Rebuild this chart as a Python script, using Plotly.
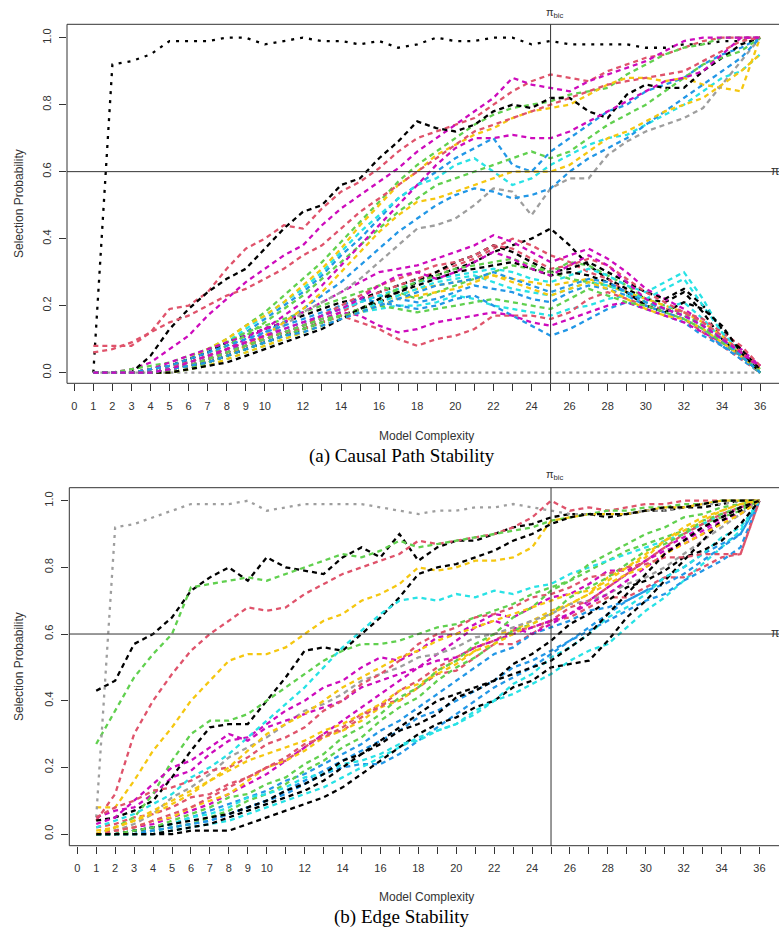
import plotly.graph_objects as go

X = list(range(1, 37))
X_TICKS = list(range(0, 37))
X_TICK_TEXT = [str(i) if (i <= 10 or i % 2 == 0) else "" for i in X_TICKS]
Y_TICKS = [0, 0.2, 0.4, 0.6, 0.8, 1.0]
Y_TICK_TEXT = ["0.0", "0.2", "0.4", "0.6", "0.8", "1.0"]
PI_BIC = 25
PI_THR = 0.6

# ---------------- Panel (a): causal path stability ----------------
a_black_top = [0, .92, .93, .95, .99, .99, .99, 1.0, 1.0, .98, .99, 1.0, .99, .99, .98, .99, .97, .98,
               1.0, .99, .99, 1.0, 1.0, .98, .99, .98, .98, .98, .98, .97, .97, .98, .98, .99, .99, 1.0]
a_gray_zero = [0] * 36
a_gray_rise = [0, 0, 0, 0, .01, .02, .04, .06, .08, .11, .14, .18, .21, .24, .28, .33, .38, .43,
               .44, .46, .50, .55, .54, .47, .55, .58, .58, .65, .69, .72, .74, .76, .79, .86, .93, 1.0]
a_up_red1 = [.08, .08, .08, .12, .19, .20, .24, .31, .37, .40, .44, .43, .49, .54, .57, .61, .66, .70,
             .72, .74, .76, .80, .84, .87, .89, .88, .87, .90, .92, .94, .95, .97, .99, 1.0, 1.0, 1.0]
a_up_black = [0, 0, 0, .05, .13, .19, .24, .28, .31, .37, .43, .48, .50, .56, .58, .64, .69, .75,
              .73, .72, .74, .78, .80, .79, .82, .82, .78, .76, .83, .86, .85, .85, .90, .94, .98, 1.0]
a_up_mag1 = [0, 0, .01, .03, .07, .11, .17, .22, .27, .31, .35, .38, .44, .49, .53, .57, .61, .66,
             .70, .74, .78, .82, .88, .86, .85, .84, .87, .89, .91, .93, .96, .99, 1.0, 1.0, 1.0, 1.0]
a_up_yel1 = [0, 0, 0, .01, .02, .04, .07, .10, .14, .17, .21, .26, .31, .37, .44, .50, .56, .60,
             .65, .68, .71, .73, .76, .78, .79, .80, .83, .86, .88, .88, .87, .88, .86, .85, .84, 1.0]
a_up_blu1 = [0, 0, 0, .01, .02, .04, .06, .09, .12, .16, .20, .24, .29, .35, .40, .46, .52, .56,
             .60, .64, .67, .70, .62, .60, .66, .70, .74, .78, .80, .84, .86, .88, .92, .95, .97, 1.0]
a_up_cya1 = [0, 0, 0, .01, .02, .04, .06, .09, .13, .17, .21, .25, .30, .36, .42, .47, .52, .56,
             .58, .62, .64, .60, .56, .58, .62, .65, .68, .70, .71, .74, .77, .80, .84, .88, .90, .95]
a_up_grn1 = [0, 0, 0, 0, .01, .03, .05, .08, .11, .15, .19, .23, .28, .33, .38, .43, .48, .52,
             .56, .58, .60, .62, .64, .66, .64, .66, .70, .74, .77, .80, .84, .88, .92, .94, .96, 1.0]
a_up_mag2 = [0, 0, 0, 0, .01, .02, .04, .07, .10, .13, .17, .21, .26, .32, .38, .44, .50, .56,
             .62, .67, .70, .70, .71, .70, .70, .72, .75, .78, .81, .84, .87, .88, .90, .95, 1.0, 1.0]
a_up_red2 = [.06, .07, .09, .12, .15, .17, .20, .23, .25, .28, .31, .35, .38, .43, .48, .52, .56, .60,
             .64, .68, .72, .74, .76, .78, .80, .82, .84, .86, .87, .88, .89, .90, .93, .96, .99, 1.0]
a_up_yel2 = [0, 0, 0, 0, 0, .01, .03, .05, .08, .11, .15, .19, .24, .30, .36, .42, .47, .51,
             .52, .54, .56, .58, .60, .60, .60, .62, .66, .70, .72, .75, .78, .80, .82, .86, .90, .95]
a_up_blu2 = [0, 0, 0, 0, .01, .02, .04, .06, .09, .12, .15, .19, .23, .27, .32, .37, .42, .46,
             .50, .53, .55, .54, .52, .53, .55, .60, .64, .67, .70, .74, .78, .82, .86, .90, .94, 1.0]
a_up_grn2 = [0, 0, 0, .01, .02, .04, .07, .10, .14, .18, .23, .28, .33, .39, .45, .51, .57, .62,
             .66, .70, .74, .77, .79, .80, .81, .83, .84, .85, .89, .92, .95, .97, .98, 1.0, 1.0, 1.0]

a_lo_black1 = [0, 0, 0, .01, .02, .04, .06, .09, .11, .13, .15, .17, .19, .21, .22, .24, .26, .28,
               .29, .31, .33, .36, .38, .40, .43, .38, .32, .28, .25, .22, .21, .24, .18, .10, .05, 0]
a_lo_red1 = [0, 0, 0, 0, .01, .02, .04, .06, .08, .10, .12, .14, .16, .18, .21, .24, .26, .28,
             .30, .32, .34, .37, .40, .38, .35, .33, .30, .28, .24, .20, .18, .16, .12, .08, .04, 0]
a_lo_grn1 = [0, 0, .01, .02, .03, .05, .07, .09, .12, .14, .16, .18, .20, .22, .24, .26, .24, .22,
             .24, .26, .28, .30, .32, .31, .30, .33, .32, .29, .26, .22, .20, .18, .14, .10, .06, .01]
a_lo_blu1 = [0, 0, 0, .01, .02, .03, .05, .07, .09, .11, .13, .15, .17, .19, .21, .23, .22, .21,
             .22, .24, .26, .25, .24, .22, .21, .24, .26, .25, .23, .20, .18, .16, .13, .08, .04, 0]
a_lo_cya1 = [0, 0, 0, 0, .01, .02, .04, .06, .08, .10, .12, .14, .17, .19, .21, .23, .25, .27,
             .28, .29, .30, .31, .30, .28, .27, .29, .31, .29, .26, .24, .27, .30, .22, .12, .06, 0]
a_lo_mag1 = [0, 0, 0, .01, .03, .05, .07, .09, .11, .13, .15, .18, .21, .24, .27, .30, .31, .32,
             .34, .36, .38, .41, .39, .36, .33, .35, .37, .34, .30, .25, .22, .19, .15, .10, .07, .02]
a_lo_yel1 = [0, 0, 0, 0, .01, .02, .03, .05, .07, .09, .11, .13, .15, .17, .19, .21, .23, .25,
             .26, .27, .28, .29, .28, .27, .26, .27, .28, .26, .24, .22, .20, .18, .15, .11, .06, .01]
a_lo_red2 = [0, 0, 0, .01, .02, .03, .05, .07, .09, .11, .12, .13, .15, .17, .15, .13, .10, .08,
             .10, .11, .13, .17, .17, .17, .16, .18, .22, .24, .22, .20, .19, .18, .16, .12, .08, .02]
a_lo_black2 = [0, 0, 0, 0, .01, .02, .03, .05, .07, .09, .11, .13, .15, .17, .19, .21, .24, .27,
               .30, .33, .35, .38, .36, .33, .30, .31, .33, .30, .27, .24, .22, .25, .20, .13, .07, .01]
a_lo_mag2 = [0, 0, 0, 0, .01, .02, .04, .06, .08, .10, .12, .14, .16, .18, .17, .14, .12, .13,
             .15, .16, .17, .18, .17, .15, .14, .16, .18, .20, .21, .19, .17, .15, .12, .09, .05, .02]
a_lo_blu2 = [0, 0, 0, .01, .02, .04, .06, .08, .10, .12, .14, .16, .18, .20, .22, .21, .20, .19,
             .20, .22, .23, .20, .17, .14, .11, .13, .16, .19, .21, .19, .17, .15, .11, .08, .05, 0]
a_lo_grn2 = [0, 0, 0, 0, 0, .01, .03, .05, .07, .09, .11, .13, .15, .17, .19, .22, .25, .27,
             .29, .31, .32, .33, .34, .32, .30, .28, .27, .26, .24, .21, .19, .17, .14, .09, .05, 0]
a_lo_cya2 = [0, 0, 0, 0, .01, .02, .03, .05, .07, .09, .11, .13, .15, .17, .18, .19, .20, .20,
             .21, .23, .22, .20, .19, .18, .17, .19, .20, .22, .23, .21, .19, .21, .16, .10, .05, 0]
a_lo_red3 = [0, 0, 0, 0, .01, .02, .04, .06, .08, .10, .12, .14, .17, .20, .23, .26, .28, .30,
             .32, .33, .35, .38, .37, .34, .31, .32, .34, .32, .28, .24, .21, .18, .15, .11, .06, .02]
a_lo_yel2 = [0, 0, 0, 0, 0, .01, .02, .04, .06, .08, .10, .12, .14, .16, .18, .20, .22, .23,
             .24, .25, .27, .29, .27, .25, .23, .25, .27, .25, .22, .19, .17, .16, .13, .09, .05, 0]
a_lo_black3 = [0, 0, 0, 0, 0, .01, .02, .03, .05, .07, .09, .11, .13, .16, .19, .22, .24, .26,
               .28, .30, .31, .32, .33, .31, .29, .30, .29, .27, .24, .20, .18, .21, .19, .14, .06, 0]
a_lo_blu3 = [0, 0, 0, 0, .01, .02, .03, .05, .07, .09, .11, .12, .14, .16, .18, .20, .22, .24,
             .26, .27, .28, .30, .28, .26, .24, .26, .28, .27, .24, .21, .19, .17, .14, .10, .05, 0]
a_lo_grn3 = [0, 0, 0, 0, .01, .02, .04, .06, .08, .10, .12, .14, .16, .17, .18, .20, .19, .18,
             .19, .20, .21, .22, .21, .20, .19, .22, .25, .23, .21, .20, .18, .16, .13, .09, .05, 0]
a_lo_mag3 = [0, 0, 0, 0, .01, .03, .05, .07, .09, .11, .13, .15, .17, .19, .22, .26, .29, .30,
             .28, .30, .33, .36, .34, .31, .29, .32, .35, .32, .27, .22, .19, .17, .14, .10, .06, .02]
a_lo_cya3 = [0, 0, 0, 0, 0, .01, .02, .04, .06, .08, .10, .12, .14, .16, .18, .21, .23, .25,
             .27, .28, .29, .27, .25, .24, .23, .25, .27, .26, .24, .22, .25, .28, .20, .12, .06, 0]

# ---------------- Panel (b): edge stability ----------------
b_gray_top = [.05, .92, .93, .95, .97, .99, .99, .99, 1.0, .97, .98, .99, .99, .99, .99, .98, .97, .96,
              .97, .97, .98, .98, .99, .98, .97, .96, .96, .96, .96, .97, .97, .98, .99, .99, 1.0, 1.0]
b_black_top = [.43, .46, .57, .60, .65, .73, .77, .80, .76, .83, .80, .79, .78, .83, .86, .83, .90, .82,
               .86, .88, .88, .90, .92, .93, .95, .96, .96, .95, .96, .97, .97, .98, .98, .99, 1.0, 1.0]
b_green_top = [.27, .37, .47, .54, .60, .74, .75, .76, .77, .76, .78, .80, .82, .84, .83, .85, .88, .86,
               .87, .88, .89, .90, .91, .92, .94, .95, .96, .97, .97, .98, .98, .99, .99, 1.0, 1.0, 1.0]
b_red_top = [.04, .12, .30, .40, .48, .55, .60, .64, .68, .67, .68, .72, .75, .78, .80, .82, .84, .88,
             .87, .88, .89, .90, .92, .95, 1.0, .97, .98, .97, .98, .99, .99, 1.0, 1.0, 1.0, 1.0, 1.0]
b_yel_top = [.08, .08, .16, .25, .32, .40, .46, .52, .54, .54, .56, .60, .64, .66, .70, .72, .75, .80,
             .79, .80, .82, .82, .83, .86, .94, .95, .96, .96, .96, .97, .98, .98, .99, 1.0, 1.0, 1.0]
b_black_mid = [.04, .05, .07, .10, .17, .25, .32, .33, .33, .40, .47, .55, .56, .55, .60, .65, .71, .78,
               .80, .81, .83, .85, .88, .90, .93, .95, .96, .96, .96, .97, .98, .98, .99, 1.0, 1.0, 1.0]
b_black_low = [0, 0, 0, 0, 0, .01, .01, .01, .03, .05, .07, .09, .11, .14, .18, .22, .26, .30,
               .33, .35, .38, .40, .44, .46, .50, .51, .52, .58, .65, .70, .76, .82, .88, .94, .97, 1.0]
b_cyan_low = [0, 0, 0, 0, .01, .02, .03, .04, .06, .08, .10, .12, .14, .17, .20, .23, .26, .29,
              .31, .33, .36, .40, .42, .45, .48, .52, .55, .57, .62, .67, .71, .76, .81, .86, .91, 1.0]
b_blue_1 = [0, 0, .01, .01, .02, .03, .04, .06, .08, .10, .12, .15, .18, .20, .21, .21, .24, .28,
            .32, .36, .40, .44, .47, .50, .54, .58, .62, .66, .70, .73, .77, .80, .84, .87, .90, 1.0]
b_red_1 = [.02, .03, .05, .06, .08, .11, .12, .15, .17, .20, .22, .26, .30, .31, .35, .39, .40, .44,
           .48, .49, .53, .57, .57, .60, .64, .65, .68, .71, .71, .74, .77, .77, .80, .83, .84, 1.0]
b_green_1 = [0, .02, .05, .12, .22, .30, .34, .34, .36, .40, .44, .48, .52, .55, .57, .57, .58, .60,
             .62, .63, .65, .67, .69, .72, .74, .76, .79, .82, .85, .87, .89, .91, .93, .95, .97, 1.0]
b_mag_1 = [.05, .07, .08, .12, .17, .19, .24, .28, .29, .33, .37, .40, .44, .46, .50, .53, .52, .55,
           .59, .60, .63, .66, .65, .68, .71, .72, .75, .79, .79, .82, .85, .87, .90, .94, .96, 1.0]
b_yel_1 = [0, .01, .02, .04, .05, .08, .10, .12, .16, .20, .22, .25, .29, .31, .34, .38, .40, .44,
           .49, .52, .55, .60, .61, .64, .67, .69, .72, .77, .80, .83, .88, .92, .95, .97, .99, 1.0]
b_gray_1 = [0, .01, .03, .06, .11, .14, .18, .23, .26, .29, .33, .37, .39, .42, .46, .48, .50, .53,
            .54, .56, .59, .60, .62, .64, .66, .69, .70, .72, .75, .77, .80, .84, .88, .92, .96, 1.0]
b_black_2 = [0, 0, .01, .02, .03, .04, .05, .06, .08, .10, .13, .15, .18, .22, .24, .27, .31, .33,
             .36, .41, .43, .46, .51, .54, .58, .63, .66, .70, .74, .76, .79, .83, .85, .88, .93, 1.0]
b_cyan_1 = [.02, .04, .06, .09, .12, .17, .20, .24, .29, .34, .39, .44, .50, .56, .61, .66, .70, .71,
            .70, .72, .71, .73, .72, .74, .75, .78, .80, .82, .84, .86, .88, .90, .93, .96, .98, 1.0]
b_blue_2 = [0, 0, .01, .02, .03, .05, .07, .09, .11, .13, .16, .18, .21, .24, .27, .31, .34, .38,
            .42, .46, .50, .54, .56, .60, .62, .64, .67, .68, .70, .73, .75, .78, .82, .86, .90, 1.0]
b_red_2 = [0, .01, .02, .04, .06, .08, .11, .14, .17, .20, .23, .27, .29, .32, .36, .38, .43, .46,
           .50, .53, .56, .58, .61, .62, .64, .68, .70, .74, .78, .82, .86, .90, .93, .96, .98, 1.0]
b_green_2 = [0, 0, 0, .01, .02, .03, .05, .07, .10, .12, .15, .19, .22, .26, .29, .34, .38, .41,
             .46, .50, .53, .57, .61, .63, .66, .71, .74, .77, .81, .85, .87, .90, .94, .96, .98, 1.0]
b_mag_2 = [0, .01, .02, .03, .05, .07, .09, .12, .15, .18, .22, .26, .30, .34, .38, .42, .46, .50,
           .54, .58, .62, .64, .62, .60, .63, .66, .70, .74, .78, .82, .86, .89, .92, .95, .98, 1.0]
b_yel_2 = [.01, .02, .04, .07, .10, .13, .16, .19, .22, .24, .26, .28, .31, .33, .36, .39, .43, .45,
           .48, .51, .55, .57, .60, .63, .66, .69, .72, .75, .78, .80, .84, .87, .90, .93, .96, 1.0]
b_blue_3 = [0, 0, 0, .01, .02, .03, .04, .06, .08, .10, .13, .16, .19, .22, .25, .28, .31, .35,
            .37, .40, .43, .46, .50, .52, .55, .58, .61, .64, .67, .70, .72, .76, .79, .82, .86, 1.0]
b_black_3 = [0, 0, 0, 0, .01, .02, .03, .05, .07, .09, .11, .13, .16, .20, .24, .28, .32, .36,
             .40, .42, .44, .46, .48, .50, .52, .56, .60, .66, .72, .78, .84, .88, .92, .95, .98, 1.0]
b_cyan_2 = [0, 0, .01, .02, .03, .05, .06, .08, .11, .12, .14, .17, .18, .21, .22, .24, .27, .28,
            .31, .33, .37, .40, .45, .48, .53, .56, .60, .65, .68, .72, .77, .80, .84, .89, .92, 1.0]
b_red_3 = [.05, .08, .10, .13, .14, .16, .19, .20, .23, .27, .29, .32, .37, .40, .45, .48, .52, .57,
           .60, .62, .65, .66, .68, .71, .72, .74, .77, .78, .80, .81, .83, .83, .84, .84, .84, 1.0]
b_green_3 = [0, 0, .01, .02, .04, .06, .08, .11, .12, .15, .17, .21, .24, .29, .32, .36, .41, .44,
             .49, .52, .57, .60, .65, .68, .73, .76, .81, .84, .87, .90, .92, .95, .96, .98, .99, 1.0]
b_mag_3 = [.03, .05, .10, .15, .20, .22, .26, .30, .28, .32, .34, .36, .38, .40, .44, .46, .48, .50,
           .52, .53, .56, .58, .60, .62, .64, .66, .69, .72, .76, .80, .84, .88, .91, .95, .98, 1.0]
b_yel_3 = [0, .02, .04, .06, .09, .12, .16, .20, .25, .30, .33, .36, .40, .44, .47, .50, .53, .55,
           .58, .60, .62, .64, .66, .68, .70, .72, .73, .76, .80, .84, .88, .91, .94, .97, .99, 1.0]

# R 4 default palette
BLACK, RED, GREEN, BLUE, CYAN, MAGENTA, YELLOW, GRAY = (
    "#000000", "#DF536B", "#61D04F", "#2297E6", "#28E2E5", "#CD0BBC", "#F5C710", "#9E9E9E")

panel_a = [
    (a_black_top, BLACK, "3px,6px"), (a_up_red1, RED, None), (a_up_grn2, GREEN, None),
    (a_up_blu1, BLUE, None), (a_up_cya1, CYAN, None), (a_up_mag1, MAGENTA, None),
    (a_up_yel1, YELLOW, None), (a_gray_zero, GRAY, "3px,4px"),
    (a_lo_black1, BLACK, None), (a_lo_red1, RED, None), (a_lo_grn1, GREEN, None),
    (a_lo_blu1, BLUE, None), (a_lo_cya1, CYAN, None), (a_lo_mag1, MAGENTA, None),
    (a_lo_yel1, YELLOW, None), (a_gray_rise, GRAY, None),
    (a_up_black, BLACK, None), (a_up_red2, RED, None), (a_up_grn1, GREEN, None),
    (a_up_blu2, BLUE, None), (a_lo_cya2, CYAN, None), (a_up_mag2, MAGENTA, None),
    (a_up_yel2, YELLOW, None),
    (a_lo_black2, BLACK, None), (a_lo_red2, RED, None), (a_lo_grn2, GREEN, None),
    (a_lo_blu2, BLUE, None), (a_lo_cya3, CYAN, None), (a_lo_mag2, MAGENTA, None),
    (a_lo_yel2, YELLOW, None),
    (a_lo_black3, BLACK, None), (a_lo_red3, RED, None), (a_lo_grn3, GREEN, None),
    (a_lo_blu3, BLUE, None), (a_lo_mag3, MAGENTA, None),
]

panel_b = [
    (b_black_top, BLACK, None), (b_red_top, RED, None), (b_green_top, GREEN, None),
    (b_blue_1, BLUE, None), (b_cyan_low, CYAN, None), (b_mag_1, MAGENTA, None),
    (b_yel_top, YELLOW, None), (b_gray_top, GRAY, "3px,5px"),
    (b_black_mid, BLACK, None), (b_red_1, RED, None), (b_green_1, GREEN, None),
    (b_blue_2, BLUE, None), (b_cyan_1, CYAN, None), (b_mag_2, MAGENTA, None),
    (b_yel_1, YELLOW, None), (b_gray_1, GRAY, None),
    (b_black_low, BLACK, None), (b_red_2, RED, None), (b_green_2, GREEN, None),
    (b_blue_3, BLUE, None), (b_cyan_2, CYAN, None), (b_mag_3, MAGENTA, None),
    (b_yel_2, YELLOW, None),
    (b_black_2, BLACK, None), (b_red_3, RED, None), (b_green_3, GREEN, None),
    (b_yel_3, YELLOW, None), (b_black_3, BLACK, None),
]

fig = go.Figure()
for vals, col, dash in panel_a:
    fig.add_trace(go.Scatter(x=X, y=vals, mode="lines", xaxis="x", yaxis="y",
                             line=dict(color=col, width=2.3, dash=dash or "5px,4px"),
                             showlegend=False, hoverinfo="skip"))
for vals, col, dash in panel_b:
    fig.add_trace(go.Scatter(x=X, y=vals, mode="lines", xaxis="x2", yaxis="y2",
                             line=dict(color=col, width=2.3, dash=dash or "5px,4px"),
                             showlegend=False, hoverinfo="skip"))

H = 931.0
W_PLOT = 712.0
L = 67


def py(px):
    return 1 - px / H


def px_x(px):
    return (px - L) / W_PLOT


axis_font = dict(family="Liberation Sans, Arial, sans-serif", size=11, color="#333")
xcommon = dict(tickvals=X_TICKS, ticktext=X_TICK_TEXT, ticks="outside", ticklen=7, tickwidth=1,
               tickcolor="#333", showgrid=False, zeroline=False, showline=False,
               tickfont=axis_font, ticklabelstandoff=5)
ycommon = dict(tickvals=Y_TICKS, ticktext=Y_TICK_TEXT, ticks="outside", ticklen=7, tickwidth=1,
               tickcolor="#333", showgrid=False, zeroline=False, showline=False,
               tickfont=axis_font, tickangle=-90, ticklabelstandoff=4)

fig.update_layout(
    width=779, height=931,
    margin=dict(l=L, r=0, t=0, b=0),
    paper_bgcolor="white", plot_bgcolor="white",
    font=dict(family="Liberation Sans, Arial, sans-serif", color="#333"),
    xaxis=dict(domain=[0, 1], range=[-0.383, 36.99], anchor="y", **xcommon),
    yaxis=dict(domain=[py(383.3), py(24.3)], range=[-0.032, 1.04], anchor="x", **ycommon),
    xaxis2=dict(domain=[px_x(69.3), 1], range=[-0.42, 37.03], anchor="y2", **xcommon),
    yaxis2=dict(domain=[py(845.7), py(487.7)], range=[-0.035, 1.039], anchor="x2", **ycommon),
)

shapes = []
for xr, yr in (("x", "y"), ("x2", "y2")):
    lc = dict(color="#333", width=1)
    shapes += [
        dict(type="line", xref=xr + " domain", yref=yr + " domain", x0=0, x1=1.05, y0=1, y1=1, line=lc),
        dict(type="line", xref=xr + " domain", yref=yr + " domain", x0=0, x1=1.05, y0=0, y1=0, line=lc),
        dict(type="line", xref=xr + " domain", yref=yr + " domain", x0=0, x1=0, y0=0, y1=1, line=lc),
        dict(type="line", xref=xr + " domain", yref=yr, x0=0, x1=1.05, y0=PI_THR, y1=PI_THR, line=lc),
        dict(type="line", xref=xr, yref=yr + " domain", x0=PI_BIC, x1=PI_BIC, y0=0, y1=1, line=lc),
    ]
fig.update_layout(shapes=shapes)

ann = []
for (xr, yr, top_px, mid_px, xt_px, cap_px, cap) in (
        ("x", "y", 13, 204, 436, 456, "(a) Causal Path Stability"),
        ("x2", "y2", 475, 667, 897, 917, "(b) Edge Stability")):
    ann += [
        dict(x=PI_BIC, xref=xr, y=py(top_px), yref="paper", text="π<sub>bic</sub>", showarrow=False,
             font=dict(size=11, color="#333"), xanchor="left", xshift=-7, yanchor="middle"),
        dict(x=1, xref="paper", xshift=-10, y=PI_THR, yref=yr, text="π<sub>thr</sub>", showarrow=False,
             font=dict(size=12, color="#333"), xanchor="left", yanchor="middle"),
        dict(x=px_x(19), xref="paper", y=py(mid_px), yref="paper", text="Selection Probability",
             textangle=-90, showarrow=False, font=dict(size=12, color="#333"),
             xanchor="center", yanchor="middle"),
        dict(x=px_x(426), xref="paper", y=py(xt_px), yref="paper", text="Model Complexity",
             showarrow=False, font=dict(size=12, color="#333"), xanchor="center", yanchor="middle"),
        dict(x=px_x(402), xref="paper", y=py(cap_px), yref="paper", text=cap, showarrow=False,
             font=dict(family="Liberation Serif, Times New Roman, serif", size=19, color="#000"),
             xanchor="center", yanchor="middle"),
    ]
fig.update_layout(annotations=ann)

fig.write_html(
    "out.html",
    config={"displayModeBar": False},
    post_script="document.body.style.margin='0';document.body.style.overflow='hidden';",
)
